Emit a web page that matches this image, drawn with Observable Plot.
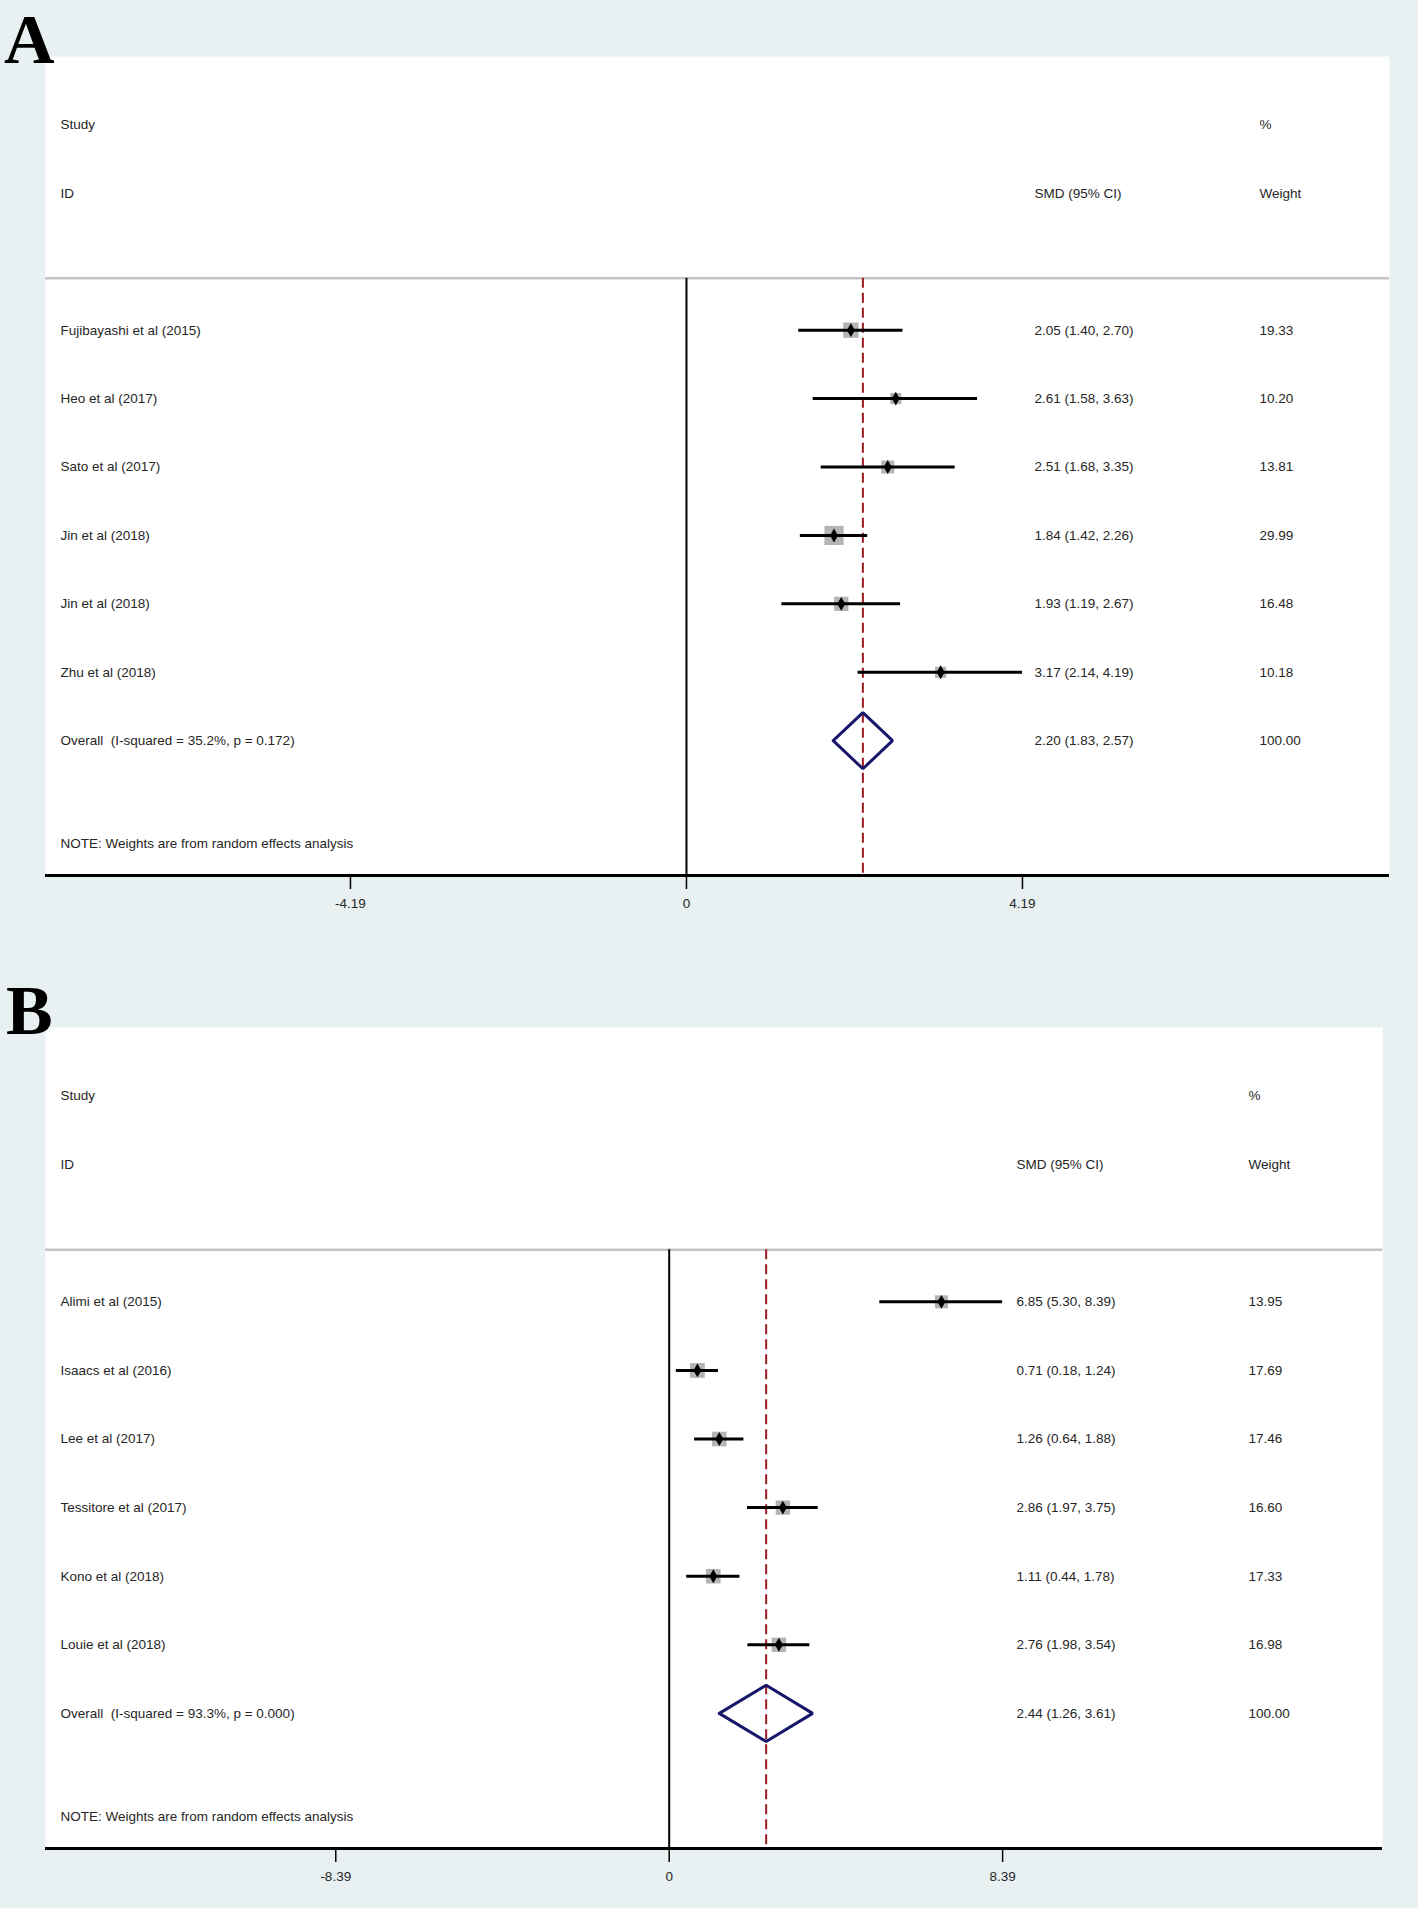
<!DOCTYPE html>
<html><head><meta charset="utf-8">
<script src="https://cdn.jsdelivr.net/npm/d3@7"></script>
<script src="https://cdn.jsdelivr.net/npm/@observablehq/plot@0.6"></script>
<style>
html,body{margin:0;padding:0;background:#e8f0f2;}
.panel{position:relative;width:1418px;}
.letter{position:absolute;z-index:2;font-family:"Liberation Serif","Times New Roman",serif;font-weight:bold;font-size:70px;line-height:normal;color:#000;}
svg{display:block}
</style></head><body>
<div id="panelA" class="panel"><div class="letter" style="left:4px;top:0px">A</div></div>
<div id="panelB" class="panel"><div class="letter" style="left:6px;top:0px">B</div></div>
<script>
// ---- Panel A data ----
const studiesA = ["Fujibayashi et al (2015)", "Heo et al (2017)", "Sato et al (2017)", "Jin et al (2018)", "Jin et al (2018)", "Zhu et al (2018)"];
const smdA = [2.05, 2.61, 2.51, 1.84, 1.93, 3.17];
const lowerA = [1.40, 1.58, 1.68, 1.42, 1.19, 2.14];
const upperA = [2.70, 3.63, 3.35, 2.26, 2.67, 4.19];
const weightA = [19.33, 10.20, 13.81, 29.99, 16.48, 10.18];
const overallA = [2.20, 1.83, 2.57];
const hetA = ["35.2%", "0.172"];
const ticksA = [-4.19, 0, 4.19];

// ---- Panel B data ----
const studiesB = ["Alimi et al (2015)", "Isaacs et al (2016)", "Lee et al (2017)", "Tessitore et al (2017)", "Kono et al (2018)", "Louie et al (2018)"];
const smdB = [6.85, 0.71, 1.26, 2.86, 1.11, 2.76];
const lowerB = [5.30, 0.18, 0.64, 1.97, 0.44, 1.98];
const upperB = [8.39, 1.24, 1.88, 3.75, 1.78, 3.54];
const weightB = [13.95, 17.69, 17.46, 16.60, 17.33, 16.98];
const overallB = [2.44, 1.26, 3.61];
const hetB = ["93.3%", "0.000"];
const ticksB = [-8.39, 0, 8.39];

const TEXT = "#262626";
const NAVY = "#16166a";
const RED = "#9b1b22";
const BOX = "#b4b4b4";

function forest(o) {
  const fmt = v => v.toFixed(2);
  const rows = o.names.map((n, i) => ({name: n, smd: o.smd[i], lo: o.lower[i], hi: o.upper[i], w: o.weight[i], row: i}));
  const oRow = rows.length;
  const sepRow = -0.76, noteRow = 7.5;
  const yDom = [-4, 7.97];
  const texts = [
    {row: -3, label: "Study", s: "", w: "%"},
    {row: -2, label: "ID", s: "SMD (95% CI)", w: "Weight"},
    ...rows.map(d => ({row: d.row, label: d.name, s: `${fmt(d.smd)} (${fmt(d.lo)}, ${fmt(d.hi)})`, w: fmt(d.w)})),
    {row: oRow, label: `Overall\u00a0\u00a0(I-squared = ${o.het[0]}, p = ${o.het[1]})`,
     s: `${fmt(o.overall[0])} (${fmt(o.overall[1])}, ${fmt(o.overall[2])})`, w: fmt(100)},
    {row: noteRow, label: "NOTE: Weights are from random effects analysis", s: "", w: ""}
  ];
  const h = 0.41;
  const diamond = [
    {x: o.overall[1], y: oRow}, {x: o.overall[0], y: oRow - h},
    {x: o.overall[2], y: oRow}, {x: o.overall[0], y: oRow + h},
    {x: o.overall[1], y: oRow}
  ];
  return Plot.plot({
    width: 1418, height: o.height,
    marginLeft: 45, marginRight: o.marginRight, marginTop: 56, marginBottom: o.marginBottom,
    x: {domain: o.xDomain, axis: null},
    y: {domain: yDom, reverse: true, axis: null},
    r: {type: "sqrt", domain: [0, 100], range: [0, 19.75]},
    style: {background: "transparent", fontFamily: "'Liberation Sans', Arial, sans-serif", fontSize: "13.5px", color: TEXT, overflow: "visible"},
    marks: [
      Plot.frame({fill: "white", stroke: "none"}),
      Plot.ruleY([sepRow], {stroke: "#c4c4c4", strokeWidth: 2.5}),
      Plot.ruleX([0], {y1: sepRow, y2: yDom[1], stroke: "black", strokeWidth: 2}),
      Plot.ruleX([o.overall[0]], {y1: sepRow, y2: yDom[1], stroke: RED, strokeWidth: 2, strokeDasharray: "10,5"}),
      Plot.dot(rows, {x: "smd", y: "row", r: "w", symbol: "square", fill: BOX, stroke: "none"}),
      Plot.ruleY(rows, {y: "row", x1: "lo", x2: "hi", stroke: "black", strokeWidth: 3}),
      Plot.dot(rows, {x: "smd", y: "row", r: 4.2, symbol: "diamond", fill: "black", stroke: "none"}),
      Plot.line(diamond, {x: "x", y: "y", stroke: NAVY, strokeWidth: 3, strokeLinejoin: "miter"}),
      Plot.text(texts, {y: "row", text: "label", frameAnchor: "left", dx: 15, textAnchor: "start", fill: TEXT}),
      Plot.text(texts, {y: "row", text: "s", frameAnchor: "left", dx: o.smdDx, textAnchor: "start", fill: TEXT}),
      Plot.text(texts, {y: "row", text: "w", frameAnchor: "left", dx: o.wDx, textAnchor: "start", fill: TEXT}),
      Plot.ruleY([yDom[1]], {stroke: "black", strokeWidth: 3}),
      Plot.axisX({ticks: o.ticks, tickSize: 14, tickPadding: 9, tickFormat: d => String(d),
                  stroke: "black", strokeWidth: 1.5, fill: TEXT, fontSize: 13.5, label: null})
    ]
  });
}

document.getElementById("panelA").appendChild(forest({
  names: studiesA, smd: smdA, lower: lowerA, upper: upperA, weight: weightA,
  overall: overallA, het: hetA, ticks: ticksA,
  xDomain: [-7.993, 8.767], height: 971, marginRight: 29, marginBottom: 96,
  smdDx: 989, wDx: 1214
}));
document.getElementById("panelB").appendChild(forest({
  names: studiesB, smd: smdB, lower: lowerB, upper: upperB, weight: weightB,
  overall: overallB, het: hetB, ticks: ticksB,
  xDomain: [-15.694, 17.949], height: 937, marginRight: 36, marginBottom: 60,
  smdDx: 971, wDx: 1203
}));
</script>
</body></html>
